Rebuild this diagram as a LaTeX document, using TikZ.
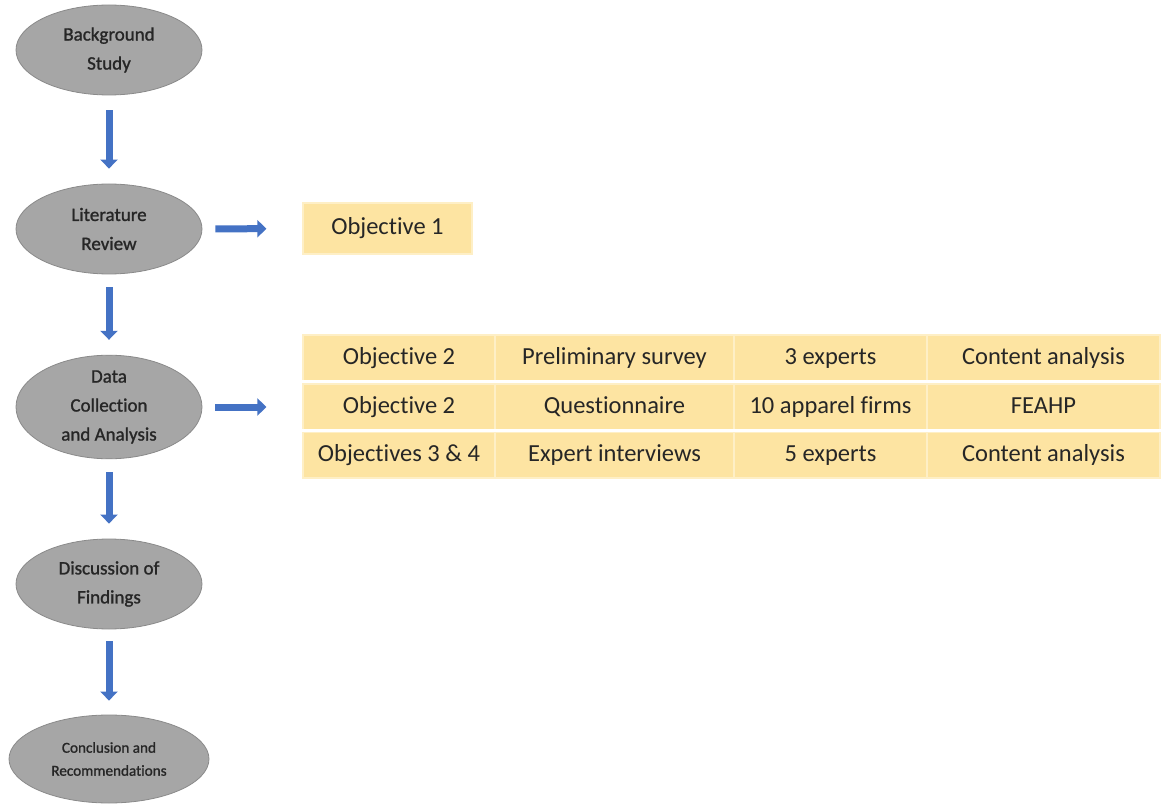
\documentclass[tikz,border=0pt]{standalone}
\usepackage{fontspec}
\setmainfont{Carlito}[Ligatures=NoCommon]
\newfontfamily\stagefont{Carlito}[Ligatures=NoCommon,FakeBold=1.2]
\usetikzlibrary{arrows.meta,shapes.geometric}

\definecolor{stepgray}{HTML}{A6A6A6}
\definecolor{stepedge}{HTML}{8A8A8A}
\definecolor{flowblue}{HTML}{4472C4}
\definecolor{cellfill}{HTML}{FDE4A2}
\definecolor{cellline}{HTML}{FEEFC6}
\definecolor{inkdark}{HTML}{262626}

\tikzset{
  stage/.style={ellipse, fill=stepgray, draw=stepedge, line width=0.8pt,
    minimum width=186pt, minimum height=90pt, inner sep=0pt, align=center,
    text=inkdark, font=\stagefont\fontsize{19}{29}\selectfont},
  flow/.style={draw=flowblue, line width=7pt,
    -{Triangle[width=17pt,length=9pt]}},
  cell/.style={rectangle, fill=cellfill, draw=cellline, line width=1.2pt,
    inner sep=0pt, minimum height=46pt, text height=17pt, text depth=5pt,
    text=inkdark, font=\fontsize{24.5}{29}\selectfont},
}

\begin{document}
\begin{tikzpicture}[x=1pt,y=-1pt]
  \useasboundingbox (0,0) rectangle (1163,805);

  % research stages
  \node[stage] (bg)   at (109,50)  {Background\\Study};
  \node[stage] (lit)  at (109,229) {Literature\\Review};
  \node[stage] (data) at (109,407) {Data\\Collection\\and Analysis};
  \node[stage] (disc) at (109,584) {Discussion of\\Findings};
  \node[stage, minimum width=200pt, minimum height=88pt,
        font=\stagefont\fontsize{15.2}{23}\selectfont] (conc) at (109,759)
        {Conclusion and\\Recommendations};

  % objective linked to the literature review
  \node[cell, minimum width=169pt, minimum height=51pt] (obj1) at (387.5,228.5) {Objective 1};

  % study design table: objective, method, sample, analysis
  \node[cell, minimum width=192pt] (t11) at (399,358)   {Objective 2};
  \node[cell, minimum width=239pt] (t12) at (614.5,358) {Preliminary survey};
  \node[cell, minimum width=193pt] (t13) at (830.5,358) {3 experts};
  \node[cell, minimum width=233pt] (t14) at (1043.5,358) {Content analysis};

  \node[cell, minimum width=192pt] (t21) at (399,407)   {Objective 2};
  \node[cell, minimum width=239pt] (t22) at (614.5,407) {Questionnaire};
  \node[cell, minimum width=193pt] (t23) at (830.5,407) {10 apparel firms};
  \node[cell, minimum width=233pt] (t24) at (1043.5,407) {FEAHP};

  \node[cell, minimum width=192pt] (t31) at (399,455)   {Objectives 3 \& 4};
  \node[cell, minimum width=239pt] (t32) at (614.5,455) {Expert interviews};
  \node[cell, minimum width=193pt] (t33) at (830.5,455) {5 experts};
  \node[cell, minimum width=233pt] (t34) at (1043.5,455) {Content analysis};

  % white rules between table rows
  \draw[white, line width=2.5pt] (t11.south west) -- (t14.south east);
  \draw[white, line width=2.5pt] (t21.south west) -- (t24.south east);

  % flow between stages
  \draw[flow, shorten <=15pt, shorten >=15pt] (bg) -- (lit);
  \draw[flow, shorten <=13pt, shorten >=15pt] (lit) -- (data);
  \draw[flow, shorten <=13pt, shorten >=15pt] (data) -- (disc);
  \draw[flow, shorten <=12pt, shorten >=14pt] (disc) -- (conc);

  % links to objectives
  \draw[flow, shorten <=13pt, shorten >=36pt] (lit) -- (obj1);
  \draw[flow, shorten <=13pt, shorten >=36pt] (data) -- (t21);
\end{tikzpicture}
\end{document}
